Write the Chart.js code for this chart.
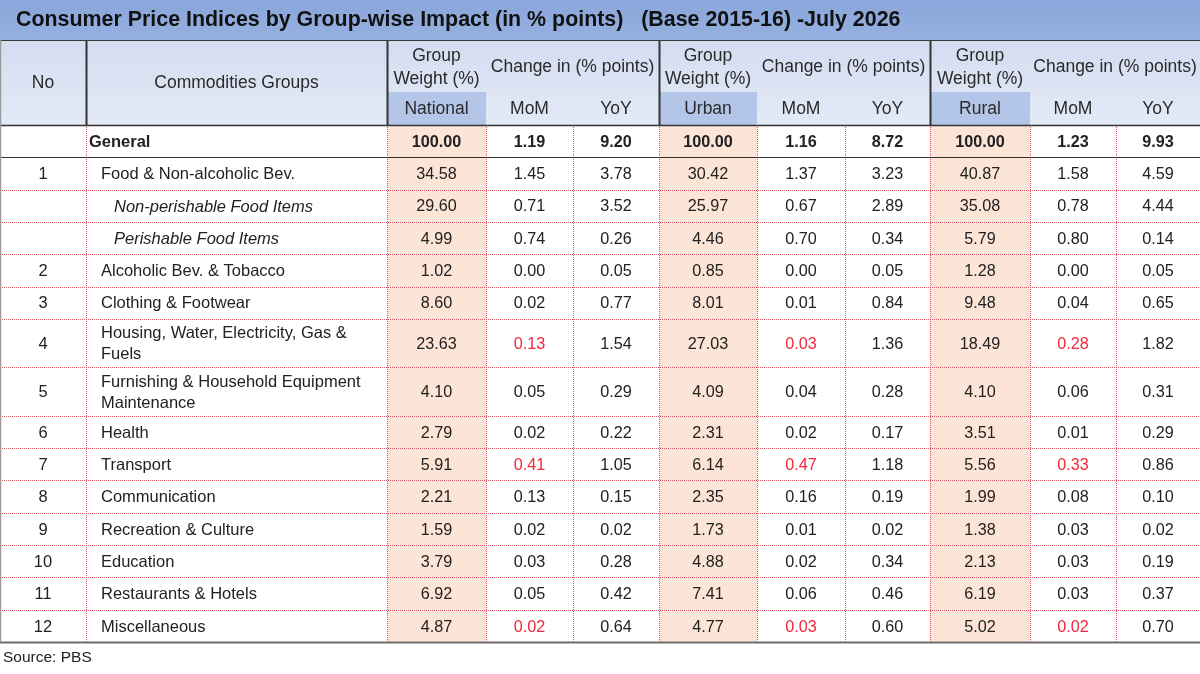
<!DOCTYPE html>
<html>
<head>
<meta charset="utf-8">
<script src="https://cdn.jsdelivr.net/npm/chart.js@4.4.1/dist/chart.umd.min.js"></script>
<style>
html, body { margin: 0; padding: 0; background: #fff; }
#wrap { width: 1200px; height: 674px; }
</style>
</head>
<body>
<div id="wrap"><canvas id="cpiTable"></canvas></div>
<script>
// table text
const title = 'Consumer Price Indices by Group-wise Impact (in % points)   (Base 2015-16) -July 2026';
const sourceNote = 'Source: PBS';
const areas = ['National', 'Urban', 'Rural'];

const rowNo = ['', '1', '', '', '2', '3', '4', '5', '6', '7', '8', '9', '10', '11', '12'];
const groups = [
    'General',
    'Food & Non-alcoholic Bev.',
    'Non-perishable Food Items',
    'Perishable Food Items',
    'Alcoholic Bev. & Tobacco',
    'Clothing & Footwear',
    'Housing, Water, Electricity, Gas & Fuels',
    'Furnishing & Household Equipment Maintenance',
    'Health',
    'Transport',
    'Communication',
    'Recreation & Culture',
    'Education',
    'Restaurants & Hotels',
    'Miscellaneous'
];
// 0 = general, 1 = group, 2 = sub item
const groupLevel = [0, 1, 2, 2, 1, 1, 1, 1, 1, 1, 1, 1, 1, 1, 1];

// values (negative = shown in red)
const nationalWeight = [100.00, 34.58, 29.60, 4.99, 1.02, 8.60, 23.63, 4.10, 2.79, 5.91, 2.21, 1.59, 3.79, 6.92, 4.87];
const nationalMoM = [1.19, 1.45, 0.71, 0.74, 0.00, 0.02, -0.13, 0.05, 0.02, -0.41, 0.13, 0.02, 0.03, 0.05, -0.02];
const nationalYoY = [9.20, 3.78, 3.52, 0.26, 0.05, 0.77, 1.54, 0.29, 0.22, 1.05, 0.15, 0.02, 0.28, 0.42, 0.64];
const urbanWeight = [100.00, 30.42, 25.97, 4.46, 0.85, 8.01, 27.03, 4.09, 2.31, 6.14, 2.35, 1.73, 4.88, 7.41, 4.77];
const urbanMoM = [1.16, 1.37, 0.67, 0.70, 0.00, 0.01, -0.03, 0.04, 0.02, -0.47, 0.16, 0.01, 0.02, 0.06, -0.03];
const urbanYoY = [8.72, 3.23, 2.89, 0.34, 0.05, 0.84, 1.36, 0.28, 0.17, 1.18, 0.19, 0.02, 0.34, 0.46, 0.60];
const ruralWeight = [100.00, 40.87, 35.08, 5.79, 1.28, 9.48, 18.49, 4.10, 3.51, 5.56, 1.99, 1.38, 2.13, 6.19, 5.02];
const ruralMoM = [1.23, 1.58, 0.78, 0.80, 0.00, 0.04, -0.28, 0.06, 0.01, -0.33, 0.08, 0.03, 0.03, 0.03, -0.02];
const ruralYoY = [9.93, 4.59, 4.44, 0.14, 0.05, 0.65, 1.82, 0.31, 0.29, 0.86, 0.10, 0.02, 0.19, 0.37, 0.70];

const valueCols = [nationalWeight, nationalMoM, nationalYoY, urbanWeight, urbanMoM, urbanYoY, ruralWeight, ruralMoM, ruralYoY];

// layout (table units = canvas px)
const colWidths = [86, 301, 99, 87, 86, 98, 88, 85, 100, 86, 84];
const rowUnits = [1, 1, 1, 1, 1, 1, 1.5, 1.5, 1, 1, 1, 1, 1, 1, 1];
const titleBottom = 40, subHeadTop = 92, headBottom = 125, bodyBottom = 642;
const textShift = 1.2;

const colEdges = [0];
colWidths.forEach(w => colEdges.push(colEdges[colEdges.length - 1] + w));
const unitH = (bodyBottom - headBottom) / rowUnits.reduce((a, b) => a + b, 0);
const rowEdges = [headBottom];
rowUnits.forEach(u => rowEdges.push(rowEdges[rowEdges.length - 1] + u * unitH));

const FONT = '"Liberation Sans", Arial, sans-serif';
const TEXT = '#222';
const RED = '#f0283c';
const PEACH = '#fce4d6';
const DOTS = '#dc5866';

const datasets = valueCols.map((vals, c) => ({
    label: 'col' + c,
    data: vals.map((v, r) => ({
        x: (colEdges[c + 2] + colEdges[c + 3]) / 2,
        y: (rowEdges[r] + rowEdges[r + 1]) / 2 + textShift,
        v: v
    })),
    pointRadius: 0,
    pointHoverRadius: 0
}));

const tablePlugin = {
    id: 'tablePlugin',
    beforeDatasetsDraw(chart) {
        const ctx = chart.ctx;
        const X = v => chart.scales.x.getPixelForValue(v);
        const Y = v => chart.scales.y.getPixelForValue(v);
        ctx.save();

        // title bar
        const tg = ctx.createLinearGradient(0, Y(0), 0, Y(titleBottom));
        tg.addColorStop(0, '#8aa6da');
        tg.addColorStop(1, '#95b0e0');
        ctx.fillStyle = tg;
        ctx.fillRect(X(0), Y(0), X(1200) - X(0), Y(titleBottom) - Y(0));
        ctx.fillStyle = '#111';
        ctx.font = 'bold 21.4px ' + FONT;
        ctx.textAlign = 'left';
        ctx.textBaseline = 'middle';
        ctx.fillText(title, X(16), Y(20));

        // header fill
        const g = ctx.createLinearGradient(0, Y(titleBottom), 0, Y(headBottom));
        g.addColorStop(0, '#d3ddf1');
        g.addColorStop(1, '#e3e9f6');
        ctx.fillStyle = g;
        ctx.fillRect(X(0), Y(titleBottom), X(1200) - X(0), Y(headBottom) - Y(titleBottom));
        [2, 5, 8].forEach(c => {
            ctx.fillStyle = '#b4c6e7';
            ctx.fillRect(X(colEdges[c]), Y(subHeadTop), X(colEdges[c + 1]) - X(colEdges[c]), Y(headBottom) - Y(subHeadTop));
            // peach body
            ctx.fillStyle = PEACH;
            ctx.fillRect(X(colEdges[c]), Y(headBottom), X(colEdges[c + 1]) - X(colEdges[c]), Y(bodyBottom) - Y(headBottom));
        });

        // header text
        ctx.fillStyle = '#2a2a2a';
        ctx.font = '17.5px ' + FONT;
        ctx.textAlign = 'center';
        const mid = (a, b) => X((colEdges[a] + colEdges[b]) / 2);
        ctx.fillText('No', mid(0, 1), Y(82 + textShift));
        ctx.fillText('Commodities Groups', mid(1, 2), Y(82 + textShift));
        areas.forEach((a, i) => {
            const c = 2 + i * 3;
            ctx.fillText('Group', mid(c, c + 1), Y(55 + textShift));
            ctx.fillText('Weight (%)', mid(c, c + 1), Y(78 + textShift));
            ctx.fillText('Change in (% points)', mid(c + 1, c + 3), Y(66 + textShift));
            ctx.fillText(a, mid(c, c + 1), Y(108 + textShift));
            ctx.fillText('MoM', mid(c + 1, c + 2), Y(108 + textShift));
            ctx.fillText('YoY', mid(c + 2, c + 3), Y(108 + textShift));
        });

        // row labels
        groups.forEach((name, r) => {
            const cy = (rowEdges[r] + rowEdges[r + 1]) / 2 + textShift;
            ctx.fillStyle = TEXT;
            ctx.textAlign = 'center';
            ctx.font = '16.5px ' + FONT;
            if (rowNo[r]) ctx.fillText(rowNo[r], mid(0, 1), Y(cy));
            ctx.textAlign = 'left';
            let x0 = colEdges[1] + 15;
            if (groupLevel[r] === 0) { ctx.font = 'bold 16.5px ' + FONT; x0 = colEdges[1] + 3; }
            if (groupLevel[r] === 2) { ctx.font = 'italic 16.5px ' + FONT; x0 = colEdges[1] + 28; }
            // wrap long names
            const maxW = colEdges[2] - x0 - 6;
            const words = name.split(' ');
            const lines = [];
            let line = '';
            words.forEach(w => {
                const t = line ? line + ' ' + w : w;
                if (ctx.measureText(t).width > maxW && line) { lines.push(line); line = w; }
                else line = t;
            });
            lines.push(line);
            const lh = 21;
            lines.forEach((l, k) => {
                ctx.fillText(l, X(x0), Y(cy + (k - (lines.length - 1) / 2) * lh));
            });
        });

        // grid lines
        const hline = (y, x1, x2, color, w, dash) => {
            ctx.beginPath();
            ctx.setLineDash(dash || []);
            ctx.strokeStyle = color; ctx.lineWidth = w;
            ctx.moveTo(X(x1), Math.round(Y(y)) + 0.5);
            ctx.lineTo(X(x2), Math.round(Y(y)) + 0.5);
            ctx.stroke();
        };
        const vline = (x, y1, y2, color, w, dash) => {
            ctx.beginPath();
            ctx.setLineDash(dash || []);
            ctx.strokeStyle = color; ctx.lineWidth = w;
            ctx.moveTo(Math.round(X(x)) + 0.5, Y(y1));
            ctx.lineTo(Math.round(X(x)) + 0.5, Y(y2));
            ctx.stroke();
        };
        for (let r = 2; r < rowEdges.length - 1; r++) hline(rowEdges[r], 0, 1200, DOTS, 1, [1, 1]);
        for (let c = 1; c < colEdges.length - 1; c++) vline(colEdges[c], headBottom, bodyBottom, DOTS, 1, [1, 1]);
        [1, 2, 5, 8].forEach(c => vline(colEdges[c], titleBottom, headBottom, '#333', 2));
        hline(titleBottom, 0, 1200, '#3a3a3a', 1);
        hline(headBottom, 0, 1200, '#333', 1.5);
        hline(rowEdges[1], 0, 1200, '#333', 1);
        hline(bodyBottom, 0, 1200, '#6e6e6e', 2);
        vline(0, titleBottom, bodyBottom, '#9a9a9a', 1.5);

        // source
        ctx.setLineDash([]);
        ctx.fillStyle = TEXT;
        ctx.font = '15.5px ' + FONT;
        ctx.textAlign = 'left';
        ctx.fillText(sourceNote, X(3), Y(658));
        ctx.restore();
    },
    afterDatasetsDraw(chart) {
        const ctx = chart.ctx;
        ctx.save();
        ctx.textAlign = 'center';
        ctx.textBaseline = 'middle';
        chart.data.datasets.forEach((ds, i) => {
            chart.getDatasetMeta(i).data.forEach((pt, r) => {
                const v = ds.data[r].v;
                ctx.font = (r === 0 ? 'bold ' : '') + '16.2px ' + FONT;
                ctx.fillStyle = v < 0 ? RED : TEXT;
                ctx.fillText(Math.abs(v).toFixed(2), pt.x, pt.y);
            });
        });
        ctx.restore();
    }
};

new Chart(document.getElementById('cpiTable').getContext('2d'), {
    type: 'scatter',
    data: { datasets: datasets },
    options: {
        responsive: true,
        maintainAspectRatio: false,
        animation: false,
        events: [],
        layout: { padding: 0 },
        plugins: {
            legend: { display: false },
            tooltip: { enabled: false }
        },
        scales: {
            x: { type: 'linear', display: false, min: 0, max: 1200 },
            y: { type: 'linear', display: false, min: 0, max: 674, reverse: true }
        }
    },
    plugins: [tablePlugin]
});
</script>
</body>
</html>
